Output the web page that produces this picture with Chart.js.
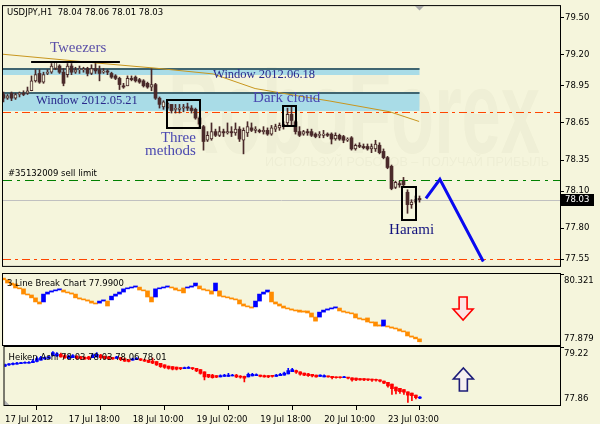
<!DOCTYPE html>
<html>
<head>
<meta charset="utf-8">
<title>USDJPY H1</title>
<script src="https://cdn.jsdelivr.net/npm/chart.js@4.4.1/dist/chart.umd.min.js"></script>
<style>
  html, body { margin: 0; padding: 0; background: #f5f5dc; }
  body { width: 600px; height: 424px; position: relative; overflow: hidden; }
  canvas { position: absolute; left: 0; }
</style>
</head>
<body>
<canvas id="priceChart" width="600" height="272" style="top:0px"></canvas>
<canvas id="breakChart" width="600" height="74" style="top:272px"></canvas>
<canvas id="haChart" width="600" height="79" style="top:345px"></canvas>
<script>
// ---------- data ----------
const symbolName = 'USDJPY,H1';
const timeLabels = ['17 Jul 2012', '17 Jul 18:00', '18 Jul 10:00', '19 Jul 02:00', '19 Jul 18:00', '20 Jul 10:00', '23 Jul 03:00'];
const timeLabelBars = [0, 16, 32, 48, 64, 80, 96];
const priceTicks = [79.50, 79.20, 78.95, 78.65, 78.35, 78.10, 77.80, 77.55];

// hourly candles
const open = [
  78.88,78.85,78.89,78.85,78.88,78.89,78.89,78.91,78.99,79.05,
  78.98,79.05,79.06,79.09,79.11,79.06,79.04,79.11,79.06,79.08,
  79.08,79.09,79.05,79.09,79.08,79.06,79.07,79.05,79.03,79.01,
  78.95,78.95,79.01,79.02,79.00,78.99,78.97,78.94,78.96,78.85,
  78.78,78.77,78.80,78.76,78.76,78.77,78.78,78.77,78.76,78.69,
  78.62,78.51,78.52,78.58,78.55,78.58,78.57,78.58,78.57,78.60,
  78.51,78.57,78.61,78.59,78.59,78.58,78.59,78.56,78.60,78.61,
  78.62,78.65,78.72,78.66,78.58,78.56,78.58,78.58,78.56,78.55,
  78.55,78.56,78.56,78.52,78.55,78.54,78.51,78.53,78.44,78.47,
  78.46,78.46,78.44,78.44,78.47,78.42,78.37,78.30,78.13,78.16,
  78.18,78.09,77.99,78.01,78.04];
const high = [
  78.90,78.88,78.90,78.89,78.90,78.91,78.94,79.03,79.08,79.08,
  79.06,79.08,79.13,79.14,79.12,79.09,79.13,79.13,79.10,79.11,
  79.10,79.10,79.12,79.14,79.11,79.09,79.08,79.06,79.04,79.02,
  78.97,79.03,79.03,79.03,79.01,79.00,78.98,79.09,78.97,78.86,
  78.83,78.82,78.80,78.80,78.80,78.80,78.81,78.79,78.77,78.70,
  78.63,78.58,78.65,78.60,78.62,78.60,78.65,78.62,78.65,78.62,
  78.61,78.66,78.65,78.62,78.60,78.62,78.61,78.63,78.64,78.65,
  78.66,78.77,78.78,78.67,78.62,78.59,78.60,78.60,78.57,78.58,
  78.59,78.57,78.57,78.57,78.56,78.55,78.53,78.54,78.48,78.49,
  78.48,78.48,78.48,78.51,78.49,78.44,78.38,78.31,78.18,78.18,
  78.21,78.11,78.03,78.06,78.06];
const low = [
  78.82,78.84,78.83,78.84,78.86,78.87,78.88,78.91,78.98,78.97,
  78.97,79.04,79.05,79.08,79.05,78.95,79.02,79.04,79.05,79.05,
  79.06,79.03,79.04,79.05,78.99,79.05,79.04,79.01,79.00,78.92,
  78.93,78.95,78.99,78.98,78.97,78.94,78.93,78.91,78.84,78.77,
  78.76,78.76,78.73,78.73,78.73,78.74,78.75,78.73,78.68,78.62,
  78.43,78.50,78.51,78.54,78.54,78.54,78.56,78.54,78.55,78.50,
  78.40,78.54,78.58,78.57,78.57,78.56,78.55,78.55,78.58,78.59,
  78.60,78.63,78.62,78.56,78.54,78.55,78.55,78.54,78.53,78.53,
  78.53,78.54,78.48,78.51,78.51,78.49,78.50,78.43,78.43,78.45,
  78.44,78.43,78.41,78.42,78.40,78.36,78.28,78.11,78.12,78.13,
  78.13,77.92,77.96,78.00,78.01];
const close = [
  78.85,78.87,78.85,78.88,78.89,78.88,78.91,78.99,79.04,78.98,
  79.04,79.06,79.11,79.14,79.06,78.97,79.11,79.06,79.08,79.09,
  79.08,79.05,79.09,79.07,79.05,79.07,79.06,79.02,79.01,78.96,
  78.94,79.01,79.00,78.99,78.98,78.95,78.94,78.96,78.85,78.80,
  78.82,78.81,78.75,78.76,78.77,78.78,78.77,78.75,78.69,78.64,
  78.50,78.55,78.58,78.55,78.58,78.57,78.58,78.57,78.60,78.52,
  78.59,78.62,78.59,78.60,78.58,78.59,78.56,78.61,78.62,78.63,
  78.64,78.72,78.67,78.58,78.55,78.58,78.57,78.55,78.54,78.55,
  78.56,78.55,78.52,78.55,78.52,78.51,78.52,78.44,78.47,78.46,
  78.45,78.44,78.46,78.48,78.41,78.37,78.29,78.12,78.17,78.15,
  78.15,77.99,78.01,78.03,78.03];

// Heiken Ashi
const haOpen = [
  78.77,78.80,78.81,78.82,78.83,78.84,78.84,78.85,78.88,78.91,
  78.94,78.95,79.02,79.01,79.05,79.02,78.95,78.97,79.00,78.99,
  78.98,78.99,78.97,78.99,79.03,79.00,78.99,78.97,78.95,78.97,
  78.94,78.92,78.91,78.92,78.94,78.92,78.91,78.89,78.88,78.84,
  78.80,78.77,78.76,78.75,78.74,78.71,78.72,78.74,78.72,78.69,
  78.64,78.58,78.56,78.55,78.52,78.53,78.53,78.54,78.56,78.54,
  78.53,78.52,78.54,78.55,78.56,78.55,78.55,78.55,78.53,78.55,
  78.56,78.59,78.64,78.67,78.64,78.61,78.59,78.58,78.56,78.53,
  78.52,78.54,78.53,78.52,78.52,78.50,78.51,78.50,78.49,78.48,
  78.48,78.47,78.47,78.46,78.45,78.42,78.39,78.35,78.28,78.25,
  78.22,78.17,78.14,78.09,78.02];
const haClose = [
  78.81,78.82,78.84,78.84,78.85,78.85,78.86,78.89,78.95,78.97,
  78.97,78.99,79.09,79.06,78.99,78.97,79.00,79.02,78.95,78.95,
  78.94,78.94,79.03,79.05,78.97,78.95,78.94,78.94,78.99,78.92,
  78.89,78.88,78.94,78.95,78.91,78.89,78.86,78.84,78.80,78.76,
  78.74,78.72,78.70,78.70,78.71,78.74,78.74,78.71,78.66,78.60,
  78.52,78.52,78.50,78.51,78.55,78.56,78.56,78.56,78.52,78.51,
  78.49,78.58,78.58,78.57,78.53,78.52,78.52,78.53,78.56,78.58,
  78.61,78.67,78.69,78.63,78.58,78.56,78.55,78.54,78.52,78.56,
  78.55,78.52,78.50,78.50,78.50,78.52,78.49,78.45,78.45,78.45,
  78.45,78.45,78.44,78.44,78.42,78.37,78.31,78.24,78.19,78.17,
  78.16,78.09,78.08,78.03,78.04];
const haHigh = [
  78.82,78.83,78.85,78.86,78.86,78.87,78.88,78.93,78.99,79.00,
  78.99,79.01,79.11,79.09,79.08,79.04,79.03,79.04,79.02,79.00,
  78.99,79.00,79.06,79.09,79.05,79.01,79.00,78.98,79.00,78.98,
  78.95,78.93,78.96,78.97,78.95,78.93,78.92,78.96,78.88,78.84,
  78.80,78.77,78.76,78.75,78.74,78.75,78.76,78.74,78.72,78.69,
  78.64,78.58,78.58,78.55,78.57,78.58,78.60,78.58,78.58,78.55,
  78.54,78.61,78.60,78.59,78.56,78.56,78.55,78.55,78.58,78.60,
  78.63,78.72,78.72,78.68,78.64,78.61,78.60,78.58,78.56,78.57,
  78.57,78.54,78.53,78.52,78.52,78.53,78.51,78.50,78.49,78.48,
  78.48,78.47,78.47,78.47,78.45,78.42,78.39,78.35,78.28,78.25,
  78.22,78.17,78.14,78.09,78.06];
const haLow = [
  78.76,78.79,78.80,78.82,78.83,78.84,78.84,78.85,78.87,78.91,
  78.93,78.95,79.01,79.00,78.98,78.95,78.95,78.97,78.94,78.93,
  78.93,78.92,78.97,78.99,78.94,78.94,78.92,78.93,78.95,78.90,
  78.88,78.87,78.91,78.92,78.90,78.88,78.85,78.83,78.79,78.74,
  78.72,78.70,78.68,78.68,78.69,78.71,78.72,78.69,78.64,78.58,
  78.45,78.50,78.49,78.50,78.52,78.53,78.53,78.54,78.50,78.49,
  78.40,78.52,78.54,78.55,78.52,78.51,78.50,78.51,78.53,78.55,
  78.56,78.59,78.64,78.60,78.56,78.55,78.53,78.52,78.51,78.53,
  78.52,78.51,78.47,78.49,78.49,78.50,78.47,78.42,78.43,78.44,
  78.43,78.43,78.41,78.42,78.40,78.36,78.28,78.11,78.12,78.13,
  78.11,77.92,77.96,78.00,78.01];
const haLegend = [78.03, 78.03, 78.06, 78.01];
const haRange = [77.86, 79.22];

// 3 Line Break bricks (1 = rising line)
const lbHigh = [
  80.18,80.12,80.01,79.98,79.84,79.81,79.63,79.60,79.50,79.36,
  79.63,79.70,79.74,79.77,79.81,79.77,79.70,79.67,79.63,79.50,
  79.46,79.43,79.39,79.32,79.39,79.43,79.39,79.56,79.63,79.70,
  79.81,79.84,79.87,79.91,79.87,79.77,79.74,79.53,79.81,79.84,
  79.87,79.91,79.87,79.84,79.77,79.84,79.87,79.91,80.01,79.91,
  79.81,79.77,79.74,80.01,79.74,79.56,79.53,79.50,79.46,79.43,
  79.29,79.22,79.19,79.39,79.63,79.70,79.77,79.70,79.36,79.29,
  79.22,79.15,79.12,79.08,79.08,79.05,79.05,78.98,78.84,79.01,
  79.08,79.12,79.15,79.19,79.15,79.05,79.01,78.98,78.95,78.81,
  78.77,78.81,78.67,78.67,78.57,78.74,78.53,78.50,78.46,78.43,
  78.36,78.33,78.19,78.15,78.09];
const lbLow = [
  80.12,80.01,79.94,79.84,79.81,79.63,79.60,79.50,79.36,79.29,
  79.36,79.63,79.70,79.74,79.77,79.70,79.67,79.63,79.50,79.46,
  79.43,79.39,79.32,79.29,79.32,79.39,79.22,79.43,79.56,79.63,
  79.70,79.81,79.84,79.87,79.77,79.74,79.53,79.36,79.53,79.81,
  79.84,79.87,79.84,79.77,79.74,79.67,79.84,79.87,79.91,79.81,
  79.77,79.74,79.63,79.74,79.56,79.53,79.50,79.46,79.43,79.29,
  79.22,79.19,79.15,79.19,79.39,79.63,79.70,79.36,79.29,79.22,
  79.15,79.12,79.08,79.05,79.01,79.01,78.98,78.84,78.70,78.84,
  79.01,79.08,79.12,79.15,79.05,79.01,78.98,78.95,78.81,78.77,
  78.74,78.67,78.64,78.53,78.53,78.53,78.50,78.46,78.43,78.36,
  78.33,78.19,78.15,78.09,77.99];
const lbUp = [
  0,0,0,0,0,0,0,0,0,0,
  1,1,1,1,1,0,0,0,0,0,
  0,0,0,0,1,1,0,1,1,1,
  1,1,1,1,0,0,0,0,1,1,
  1,1,0,0,0,0,1,1,1,0,
  0,0,0,1,0,0,0,0,0,0,
  0,0,0,1,1,1,1,0,0,0,
  0,0,0,0,0,0,0,0,0,1,
  1,1,1,1,0,0,0,0,0,0,
  0,0,0,0,0,1,0,0,0,0,
  0,0,0,0,0];
const lbRange = [77.879, 80.321];

// levels and analysis objects (prices / bar numbers)
const stopLevels = [78.735, 77.55];
const sellLimit = 78.19;
const sellLimitTicket = '#35132009 sell limit';
const windowNames = ['Window 2012.06.18', 'Window 2012.05.21'];
const windowTop = [79.093, 78.897];
const windowBottom = [79.035, 78.745];
const windowFrom = [-1, -1];
const windowTo = [104, 104];
const patternNames = ['Three methods', 'Dark cloud', 'Harami'];
const boxFrom = [40.9, 69.9, 99.6];
const boxTo = [49.1, 73.1, 103.1];
const boxTop = [78.834, 78.787, 78.130];
const boxBottom = [78.607, 78.623, 77.863];
const tweezersFrom = 6.9, tweezersTo = 29.1, tweezersPrice = 79.14;
const trendBars = [-0.5, 24.1, 37.9, 52.4, 62.9, 74.1, 81.6, 96.6, 103.9];
const trendPrices = [79.206, 79.132, 79.093, 79.046, 78.928, 78.866, 78.827, 78.740, 78.662];
const forecastBars = [105.6, 109.1, 119.95];
const forecastPrices = [78.04, 78.195, 77.53];
const signalBar = 114.9;
const signalLB = 79.134;
const signalHA = 78.458;

// ---------- drawing ----------
const BG = '#f5f5dc';
const CANDLE = '#4a2a2a';
const SANS = '"DejaVu Sans", sans-serif';
const SERIF = '"Liberation Serif", "Times New Roman", serif';
const X_MIN = -0.125, X_MAX = 139.125;
const Y_MIN = 77.495, Y_MAX = 79.594;

Chart.defaults.font.family = SANS;
Chart.defaults.font.size = 8.5;
Chart.defaults.color = '#000';

const bars = close.map((_, i) => i);
const lastBar = bars.length - 1;
const crisp = v => Math.round(v) + 0.5;

function hiddenX() {
  return { type: 'linear', min: X_MIN, max: X_MAX, offset: false, display: false };
}

function drawFrame(ctx, ca) {
  ctx.save();
  ctx.strokeStyle = '#000';
  ctx.lineWidth = 1;
  ctx.strokeRect(ca.left - 0.5, ca.top - 0.5, ca.right - ca.left + 1, ca.bottom - ca.top + 1);
  ctx.restore();
}

function drawRangeLabels(chart, digits) {
  const { ctx, chartArea: ca } = chart;
  const ys = chart.scales.y;
  ctx.save();
  ctx.fillStyle = '#000';
  ctx.font = '8.5px ' + SANS;
  ctx.textBaseline = 'middle';
  ctx.textAlign = 'left';
  ctx.fillText(ys.max.toFixed(digits), ca.right + 4, ca.top + 7);
  ctx.fillText(ys.min.toFixed(digits), ca.right + 4, ca.bottom - 6);
  ctx.beginPath();
  ctx.moveTo(ca.right, ca.top + 0.5);
  ctx.lineTo(ca.right + 4, ca.top + 0.5);
  ctx.stroke();
  ctx.restore();
}

function blockArrow(ctx, cx, top, h, down, stroke, fill) {
  const sw = 4, hw = 10, head = 11;
  const pts = down
    ? [[-sw, 0], [sw, 0], [sw, h - head], [hw, h - head], [0, h], [-hw, h - head], [-sw, h - head]]
    : [[-sw, h], [sw, h], [sw, head], [hw, head], [0, 0], [-hw, head], [-sw, head]];
  ctx.save();
  ctx.beginPath();
  pts.forEach(([dx, dy], k) => (k ? ctx.lineTo(cx + dx, top + dy) : ctx.moveTo(cx + dx, top + dy)));
  ctx.closePath();
  ctx.fillStyle = fill;
  ctx.fill();
  ctx.lineWidth = 1.6;
  ctx.strokeStyle = stroke;
  ctx.stroke();
  ctx.restore();
}

const priceDecor = {
  id: 'priceDecor',
  beforeDatasetsDraw(chart) {
    const { ctx, chartArea: ca } = chart;
    const xs = chart.scales.x, ys = chart.scales.y;
    ctx.save();
    ctx.beginPath();
    ctx.rect(ca.left, ca.top, ca.right - ca.left, ca.bottom - ca.top);
    ctx.clip();

    // faint broker watermark
    ctx.fillStyle = 'rgba(70,70,20,0.03)';
    ctx.textAlign = 'left';
    ctx.textBaseline = 'alphabetic';
    ctx.font = 'bold 118px "Liberation Sans", sans-serif';
    const wm = 'RoboForex';
    const wmW = ctx.measureText(wm).width;
    ctx.save();
    ctx.translate(ca.left + 165, ca.top + 147);
    ctx.scale(372 / wmW, 1);
    ctx.fillText(wm, 0, 0);
    ctx.restore();
    ctx.fillStyle = 'rgba(70,70,20,0.035)';
    ctx.font = '12px "Liberation Sans", sans-serif';
    const tag = 'ИСПОЛЬЗУЙ РОБОТОВ – ПОЛУЧАЙ ПРИБЫЛЬ';
    const tagW = ctx.measureText(tag).width;
    ctx.save();
    ctx.translate(ca.left + 262, ca.top + 160);
    ctx.scale(284 / tagW, 1);
    ctx.fillText(tag, 0, 0);
    ctx.restore();

    // gap windows
    windowNames.forEach((_, k) => {
      const x1 = xs.getPixelForValue(windowFrom[k]);
      const x2 = xs.getPixelForValue(windowTo[k]);
      const y1 = Math.round(ys.getPixelForValue(windowTop[k]));
      const y2 = Math.round(ys.getPixelForValue(windowBottom[k]));
      ctx.fillStyle = '#a9dce7';
      ctx.fillRect(x1, y1, x2 - x1, y2 - y1);
      ctx.fillStyle = '#3f6570';
      ctx.fillRect(x1, y1, x2 - x1, 2);
    });

    // horizontal levels
    const level = (price, color, dash) => {
      const y = crisp(ys.getPixelForValue(price));
      ctx.strokeStyle = color;
      ctx.lineWidth = 1;
      ctx.setLineDash(dash);
      ctx.beginPath();
      ctx.moveTo(ca.left, y);
      ctx.lineTo(ca.right, y);
      ctx.stroke();
    };
    stopLevels.forEach(p => level(p, '#ff4500', [8, 4, 3, 4]));
    level(sellLimit, '#008000', [9, 5, 3, 5]);
    level(close[lastBar], '#c0c0c0', []);
    ctx.setLineDash([]);
    ctx.restore();
  },
  afterDatasetsDraw(chart) {
    const { ctx, chartArea: ca } = chart;
    const xs = chart.scales.x, ys = chart.scales.y;
    ctx.save();
    ctx.beginPath();
    ctx.rect(ca.left, ca.top, ca.right - ca.left, ca.bottom - ca.top);
    ctx.clip();

    // pattern frames
    ctx.strokeStyle = '#000';
    ctx.lineWidth = 2;
    patternNames.forEach((_, k) => {
      const x1 = Math.round(xs.getPixelForValue(boxFrom[k]));
      const x2 = Math.round(xs.getPixelForValue(boxTo[k]));
      const y1 = Math.round(ys.getPixelForValue(boxTop[k]));
      const y2 = Math.round(ys.getPixelForValue(boxBottom[k]));
      ctx.strokeRect(x1, y1, x2 - x1, y2 - y1);
    });
    const ty = Math.round(ys.getPixelForValue(tweezersPrice));
    ctx.beginPath();
    ctx.moveTo(xs.getPixelForValue(tweezersFrom), ty);
    ctx.lineTo(xs.getPixelForValue(tweezersTo), ty);
    ctx.stroke();

    // pattern captions
    const notes = [
      { text: 'Tweezers', bar: 11.6, price: 79.257, color: '#5a4fa8', size: 15, align: 'left' },
      { text: windowNames[0], bar: 52.4, price: 79.042, color: '#2a2a8c', size: 12.5, align: 'left' },
      { text: windowNames[1], bar: 8.1, price: 78.827, color: '#2a2a8c', size: 12.5, align: 'left' },
      { text: 'Dark cloud', bar: 62.4, price: 78.85, color: '#4a48b0', size: 15, align: 'left' },
      { text: 'Three', bar: 48.1, price: 78.529, color: '#4a48b0', size: 15, align: 'right' },
      { text: 'methods', bar: 48.1, price: 78.419, color: '#4a48b0', size: 15, align: 'right' },
      { text: 'Harami', bar: 96.4, price: 77.785, color: '#12127e', size: 15, align: 'left' }
    ];
    ctx.textBaseline = 'middle';
    notes.forEach(n => {
      ctx.font = n.size + 'px ' + SERIF;
      ctx.fillStyle = n.color;
      ctx.textAlign = n.align;
      ctx.fillText(n.text, xs.getPixelForValue(n.bar), ys.getPixelForValue(n.price));
    });

    // order label and header
    ctx.font = '8.5px ' + SANS;
    ctx.fillStyle = '#000';
    ctx.textAlign = 'left';
    ctx.fillText(sellLimitTicket, ca.left + 5, ys.getPixelForValue(sellLimit) - 6);
    const ohlc = [open[lastBar], high[lastBar], low[lastBar], close[lastBar]].map(v => v.toFixed(2)).join(' ');
    ctx.fillText(symbolName + '  ' + ohlc, ca.left + 4, ca.top + 7);
    ctx.restore();
  },
  afterDraw(chart) {
    const { ctx, chartArea: ca } = chart;
    const xs = chart.scales.x, ys = chart.scales.y;
    drawFrame(ctx, ca);
    ctx.save();
    // last price tag
    const last = close[lastBar];
    const y = Math.round(ys.getPixelForValue(last));
    ctx.fillStyle = '#000';
    ctx.fillRect(ca.right + 1, y - 6, 33, 12);
    ctx.fillStyle = '#fff';
    ctx.font = '8.5px ' + SANS;
    ctx.textBaseline = 'middle';
    ctx.textAlign = 'left';
    ctx.fillText(last.toFixed(2), ca.right + 5, y);
    // chart shift marker
    const sx = xs.getPixelForValue(lastBar);
    ctx.fillStyle = '#a8a8a8';
    ctx.beginPath();
    ctx.moveTo(sx - 4.5, ca.top);
    ctx.lineTo(sx + 4.5, ca.top);
    ctx.lineTo(sx, ca.top + 4.5);
    ctx.closePath();
    ctx.fill();
    ctx.restore();
  }
};

new Chart(document.getElementById('priceChart'), {
  type: 'bar',
  data: {
    datasets: [
      {
        label: 'shadow',
        data: bars.map(i => ({ x: i, y: [low[i], high[i]] })),
        backgroundColor: CANDLE,
        barThickness: 1,
        grouped: false,
        order: 4
      },
      {
        label: 'body',
        data: bars.map(i => ({ x: i, y: [open[i], close[i]] })),
        backgroundColor: bars.map(i => (close[i] >= open[i] ? BG : CANDLE)),
        borderColor: CANDLE,
        borderWidth: bars.map(i => (close[i] >= open[i] ? 1 : 0)),
        borderSkipped: false,
        barThickness: 3,
        minBarLength: 1,
        grouped: false,
        order: 3
      },
      {
        type: 'line',
        label: 'trend',
        data: trendBars.map((b, k) => ({ x: b, y: trendPrices[k] })),
        borderColor: '#c8961e',
        borderWidth: 1,
        pointRadius: 0,
        tension: 0,
        order: 2
      },
      {
        type: 'line',
        label: 'forecast',
        data: forecastBars.map((b, k) => ({ x: b, y: forecastPrices[k] })),
        borderColor: '#0a0af0',
        borderWidth: 3,
        pointRadius: 0,
        tension: 0,
        order: 1
      }
    ]
  },
  options: {
    responsive: false,
    animation: false,
    events: [],
    devicePixelRatio: 1,
    layout: { padding: { left: 3, right: 0, top: 3, bottom: 1 } },
    plugins: { legend: { display: false }, tooltip: { enabled: false } },
    scales: {
      x: hiddenX(),
      y: {
        position: 'right',
        min: Y_MIN,
        max: Y_MAX,
        afterBuildTicks: s => { s.ticks = priceTicks.map(v => ({ value: v })); },
        afterFit: s => { s.width = 40; },
        grid: { drawOnChartArea: false, drawTicks: true, tickLength: 4, color: '#000' },
        border: { display: false },
        ticks: { padding: 1, color: '#000', callback: v => Number(v).toFixed(2) }
      }
    }
  },
  plugins: [priceDecor]
});

// 3 Line Break panel
const breakDecor = {
  id: 'breakDecor',
  afterDatasetsDraw(chart) {
    const { ctx, chartArea: ca } = chart;
    const xs = chart.scales.x, ys = chart.scales.y;
    ctx.save();
    ctx.font = '8.5px ' + SANS;
    ctx.fillStyle = '#000';
    ctx.textBaseline = 'middle';
    ctx.fillText('3 Line Break Chart ' + lbLow[lastBar].toFixed(4), ca.left + 4, ca.top + 9.5);
    ctx.restore();
    const cy = ys.getPixelForValue(signalLB);
    blockArrow(ctx, xs.getPixelForValue(signalBar), cy - 11.5, 23, true, '#ff0000', '#fde4e4');
  },
  afterDraw(chart) {
    drawFrame(chart.ctx, chart.chartArea);
    drawRangeLabels(chart, 3);
  }
};

new Chart(document.getElementById('breakChart'), {
  type: 'bar',
  data: {
    datasets: [
      {
        type: 'line',
        label: 'area',
        data: bars.map(i => ({ x: i, y: lbLow[i] })),
        stepped: 'middle',
        fill: 'start',
        backgroundColor: '#ffffff',
        borderWidth: 0,
        pointRadius: 0,
        order: 2
      },
      {
        label: 'bricks',
        data: bars.map(i => ({ x: i, y: [lbLow[i], lbHigh[i]] })),
        backgroundColor: bars.map(i => (lbUp[i] ? '#0000ff' : '#ff8c00')),
        barThickness: 4,
        minBarLength: 1,
        grouped: false,
        order: 1
      }
    ]
  },
  options: {
    responsive: false,
    animation: false,
    events: [],
    devicePixelRatio: 1,
    layout: { padding: { left: 3, right: 0, top: 2, bottom: 1 } },
    plugins: { legend: { display: false }, tooltip: { enabled: false } },
    scales: {
      x: hiddenX(),
      y: {
        position: 'right', min: lbRange[0], max: lbRange[1],
        ticks: { display: false }, grid: { display: false }, border: { display: false },
        afterFit: s => { s.width = 40; }
      }
    }
  },
  plugins: [breakDecor]
});

// Heiken Ashi panel
const haDecor = {
  id: 'haDecor',
  afterDatasetsDraw(chart) {
    const { ctx, chartArea: ca } = chart;
    const xs = chart.scales.x, ys = chart.scales.y;
    ctx.save();
    ctx.font = '8.5px ' + SANS;
    ctx.fillStyle = '#000';
    ctx.textBaseline = 'middle';
    ctx.fillText('Heiken Ashi ' + haLegend.map(v => v.toFixed(2)).join(' '), ca.left + 4, ca.top + 11);
    ctx.fillStyle = '#b0b0b0';
    ctx.beginPath();
    ctx.moveTo(ca.left, ca.bottom);
    ctx.lineTo(ca.left, ca.bottom - 5);
    ctx.lineTo(ca.left + 5, ca.bottom);
    ctx.closePath();
    ctx.fill();
    ctx.restore();
    const cy = ys.getPixelForValue(signalHA);
    blockArrow(ctx, xs.getPixelForValue(signalBar), cy - 11.5, 23, false, '#1c1c78', '#f6f0f0');
  },
  afterDraw(chart) {
    drawFrame(chart.ctx, chart.chartArea);
    drawRangeLabels(chart, 2);
  }
};

const haUp = i => haClose[i] >= haOpen[i];
new Chart(document.getElementById('haChart'), {
  type: 'bar',
  data: {
    datasets: [
      {
        label: 'ha range',
        data: bars.map(i => ({ x: i, y: [haLow[i], haHigh[i]] })),
        backgroundColor: bars.map(i => (haUp(i) ? '#0000ff' : '#ff0000')),
        barThickness: 1,
        grouped: false,
        order: 2
      },
      {
        label: 'ha body',
        data: bars.map(i => ({ x: i, y: [haOpen[i], haClose[i]] })),
        backgroundColor: bars.map(i => (haUp(i) ? '#0000ff' : '#ff0000')),
        barThickness: 3,
        minBarLength: 1,
        grouped: false,
        order: 1
      }
    ]
  },
  options: {
    responsive: false,
    animation: false,
    events: [],
    devicePixelRatio: 1,
    layout: { padding: { left: 3, right: 0, top: 2, bottom: 0 } },
    plugins: { legend: { display: false }, tooltip: { enabled: false } },
    scales: {
      x: {
        type: 'linear', min: X_MIN, max: X_MAX, offset: false, position: 'bottom',
        afterBuildTicks: s => { s.ticks = timeLabelBars.map(v => ({ value: v })); },
        afterFit: s => { s.height = 19; },
        grid: { drawOnChartArea: false, drawTicks: true, tickLength: 5, color: '#000' },
        border: { display: false },
        ticks: { align: 'start', autoSkip: false, maxRotation: 0, padding: 5, color: '#000',
                 callback: (v, i) => timeLabels[i] }
      },
      y: {
        position: 'right', min: haRange[0], max: haRange[1],
        ticks: { display: false }, grid: { display: false }, border: { display: false },
        afterFit: s => { s.width = 40; }
      }
    }
  },
  plugins: [haDecor]
});
</script>
</body>
</html>
